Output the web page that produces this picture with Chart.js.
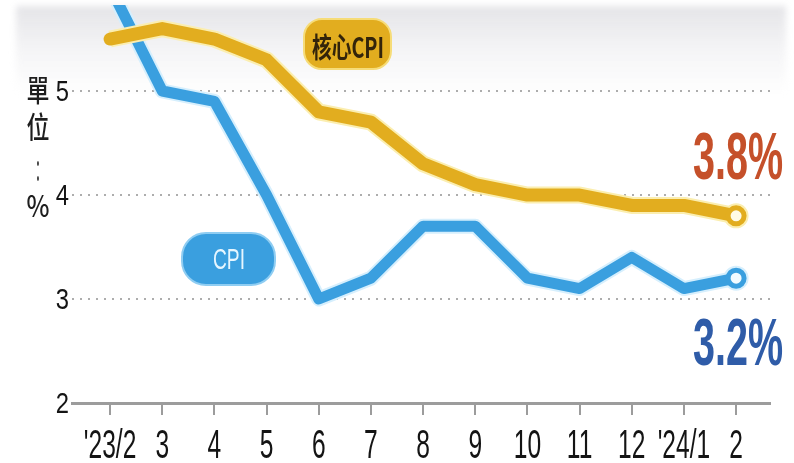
<!DOCTYPE html>
<html>
<head>
<meta charset="utf-8">
<script src="https://cdn.jsdelivr.net/npm/chart.js@4"></script>
<style>
  html, body { margin: 0; padding: 0; background: #fff; }
  #wrap { position: relative; width: 794px; height: 463px; overflow: hidden; }
  #haze {
    position: absolute; left: 16px; top: 6px; width: 770px; height: 88px;
    background: linear-gradient(to bottom, rgba(222,222,226,0.8), rgba(236,236,239,0.55) 50%, rgba(255,255,255,0));
    filter: blur(3px);
  }
  canvas { position: absolute; left: 0; top: 0; }
</style>
</head>
<body>
<div id="wrap">
  <div id="haze"></div>
  <canvas id="myChart" width="794" height="463"></canvas>
</div>
<script>
// 月份 / CPI / 核心CPI（年增率，%）
const months = ["'23/2", "3", "4", "5", "6", "7", "8", "9", "10", "11", "12", "'24/1", "2"];
const cpi = [6.0, 5.0, 4.9, 4.0, 3.0, 3.2, 3.7, 3.7, 3.2, 3.1, 3.4, 3.1, 3.2];
const coreCpi = [5.5, 5.6, 5.5, 5.3, 4.8, 4.7, 4.3, 4.1, 4.0, 4.0, 3.9, 3.9, 3.8];
const yTicks = [2, 3, 4, 5];
const unitLabel = ["單", "位", "：", "%"];

const sans = "'Liberation Sans', Arial, sans-serif";
const cjk = "'Noto Sans CJK TC', 'Noto Sans CJK SC', sans-serif";

const yellow = "#e2ad1f";
const blue = "#3a9fdf";

function points(arr) {
  return arr.map((v, i) => ({ x: i, y: v }));
}
function endOnly(r) {
  return months.map((m, i) => (i === months.length - 1 ? r : 0));
}

// 壓扁字：o.width 指定總寬，或 o.factor 指定水平比例
function drawSqueezed(ctx, text, x, y, font, color, o) {
  ctx.save();
  ctx.font = font;
  const w = ctx.measureText(text).width;
  const k = o.width ? o.width / w : o.factor;
  ctx.translate(x, y);
  ctx.scale(k, 1);
  ctx.fillStyle = color;
  ctx.textAlign = o.align || "center";
  ctx.textBaseline = o.baseline || "alphabetic";
  ctx.fillText(text, 0, 0);
  ctx.restore();
}

function pill(ctx, x, y, w, h, r, fill, stroke) {
  ctx.save();
  ctx.beginPath();
  ctx.roundRect(x, y, w, h, r);
  ctx.fillStyle = fill;
  ctx.fill();
  if (stroke) {
    ctx.lineWidth = 2;
    ctx.strokeStyle = stroke;
    ctx.stroke();
  }
  ctx.restore();
}

const labelsPlugin = {
  id: "labels",
  afterDraw(chart) {
    const ctx = chart.ctx;
    const xs = chart.scales.x;
    const ys = chart.scales.y;
    const last = months.length - 1;

    // 座標軸文字
    months.forEach((m, i) => {
      drawSqueezed(ctx, m, xs.getPixelForValue(i), 458, "41px " + sans, "#141414", { factor: 0.6 });
    });
    yTicks.forEach((v) => {
      drawSqueezed(ctx, String(v), 69, ys.getPixelForValue(v) + 10, "29px " + sans, "#141414",
        { factor: 0.82, align: "right" });
    });

    // 圖例膠囊
    pill(ctx, 304, 19, 87, 50, 18, yellow, "#f6dc78");
    drawSqueezed(ctx, "核心CPI", 348, 47, "bold 28px " + cjk, "#33240a", { width: 72, baseline: "middle" });
    pill(ctx, 182, 233, 93, 52, 24, blue, "#8fcdf2");
    drawSqueezed(ctx, "CPI", 229, 269, "30px " + sans, "#e6f6ff", { width: 32 });

    // 最新數值
    const xEnd = xs.getPixelForValue(last) + 2;
    drawSqueezed(ctx, coreCpi[last].toFixed(1) + "%", xEnd, ys.getPixelForValue(coreCpi[last]) - 37,
      "bold 66px " + sans, "#c5502a", { width: 90 });
    drawSqueezed(ctx, cpi[last].toFixed(1) + "%", xEnd, ys.getPixelForValue(cpi[last]) + 87,
      "bold 66px " + sans, "#2f5ca8", { width: 90 });

    // 單位：%
    const unitY = [90, 127, 171, 206];
    unitLabel.forEach((c, i) => {
      drawSqueezed(ctx, c, 38, unitY[i], "500 30px " + cjk, "#1e1e1e",
        { width: c === "：" ? 10 : 23, baseline: "middle" });
    });
  }
};

const ctx = document.getElementById("myChart");
const myChart = new Chart(ctx, {
  type: "line",
  data: {
    datasets: [
      {
        label: "核心CPI",
        data: points(coreCpi),
        borderColor: yellow,
        borderWidth: 13,
        borderJoinStyle: "round",
        borderCapStyle: "round",
        pointRadius: endOnly(8),
        pointBorderWidth: 5,
        pointBackgroundColor: "#fffbe6",
        pointBorderColor: yellow,
        order: 0,
        clip: 0,
      },
      {
        label: "核心CPI halo",
        data: points(coreCpi),
        borderColor: "#fbeeb0",
        borderWidth: 17,
        borderJoinStyle: "round",
        pointRadius: endOnly(8),
        pointBorderWidth: 9,
        pointBackgroundColor: "#fbeeb0",
        pointBorderColor: "#fbeeb0",
        order: 1,
        clip: 0,
      },
      {
        label: "CPI",
        data: points(cpi),
        borderColor: blue,
        borderWidth: 11,
        borderJoinStyle: "round",
        pointRadius: endOnly(8),
        pointBorderWidth: 5,
        pointBackgroundColor: "#f2fbff",
        pointBorderColor: blue,
        order: 2,
        clip: 0,
      },
      {
        label: "CPI halo",
        data: points(cpi),
        borderColor: "#d6effd",
        borderWidth: 15,
        borderJoinStyle: "round",
        pointRadius: endOnly(8),
        pointBorderWidth: 9,
        pointBackgroundColor: "#d6effd",
        pointBorderColor: "#d6effd",
        order: 3,
        clip: 0,
      },
    ],
  },
  options: {
    responsive: false,
    animation: false,
    layout: { autoPadding: false, padding: { top: 5, right: 24, left: 0, bottom: 0 } },
    plugins: {
      legend: { display: false },
      tooltip: { enabled: false },
    },
    elements: { line: { tension: 0 } },
    scales: {
      x: {
        type: "linear",
        min: -0.73,
        max: 12.65,
        afterBuildTicks: (scale) => {
          scale.ticks = months.map((m, i) => ({ value: i }));
        },
        afterFit: (scale) => {
          scale.height = 60;
        },
        border: { display: true, color: "#9c9c9c", width: 3 },
        grid: {
          drawOnChartArea: false,
          drawTicks: true,
          tickLength: 12,
          color: "#9c9c9c",
          lineWidth: 2,
        },
        ticks: { display: false },
      },
      y: {
        min: 2,
        max: 5.827,
        afterBuildTicks: (scale) => {
          scale.ticks = yTicks.map((v) => ({ value: v }));
        },
        afterFit: (scale) => {
          scale.width = 72;
        },
        border: { display: false, dash: [2, 6] },
        grid: {
          drawTicks: false,
          color: (c) => (c.tick && c.tick.value === 2 ? "rgba(0,0,0,0)" : "#adadad"),
          lineWidth: 2,
        },
        ticks: { display: false },
      },
    },
  },
  plugins: [labelsPlugin],
});
</script>
</body>
</html>
